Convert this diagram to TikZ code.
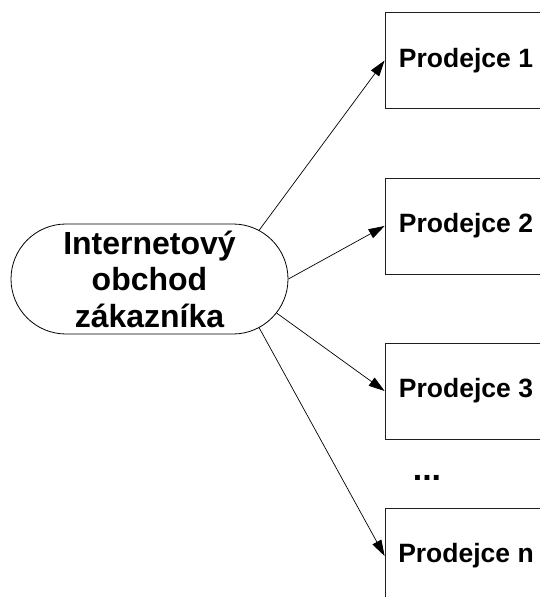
\documentclass[tikz,border=0pt]{standalone}
\usepackage{fontspec}
\setmainfont{Liberation Sans}
\usetikzlibrary{arrows.meta,shapes.misc}

\begin{document}
\begin{tikzpicture}[x=1pt,y=-1pt,
  shopshape/.style={rounded rectangle,draw=linecolor,line width=0.8pt,inner sep=0pt,
    minimum width=277pt,minimum height=110pt,align=center,
    font=\fontsize{32}{36.5}\selectfont\bfseries},
  sellerbox/.style={rectangle,draw=boxcolor,line width=0.8pt,inner sep=0pt,
    minimum width=162pt,minimum height=96pt,
    font=\fontsize{26.5}{30}\selectfont\bfseries},
  linkarrow/.style={-{Triangle[length=16pt,width=10pt]},line width=0.7pt,draw=linecolor}]
\definecolor{linecolor}{RGB}{0,0,0}
\definecolor{boxcolor}{RGB}{30,30,30}
\useasboundingbox (0,0) rectangle (539,597);
% customer's shop
\node[shopshape] (shop) at (149.5,279) {Internetový\\obchod\\zákazníka};
% sellers
\node[sellerbox] (seller1) at (466,60.5) {Prodejce 1};
\node[sellerbox] (seller2) at (466,226) {Prodejce 2};
\node[sellerbox] (seller3) at (466,391) {Prodejce 3};
\node[sellerbox] (sellern) at (466,556) {Prodejce n};
\node[anchor=base,font=\fontsize{34}{34}\selectfont\bfseries] (dots) at (427,480) {...};
% links
\draw[linkarrow] (shop.24) -- (seller1.west);
\draw[linkarrow] (shop.0) -- (seller2.west);
\draw[linkarrow] (shop.-15.5) -- (seller3.west);
\draw[linkarrow] (shop.-24) -- (sellern.west);
\end{tikzpicture}
\end{document}
